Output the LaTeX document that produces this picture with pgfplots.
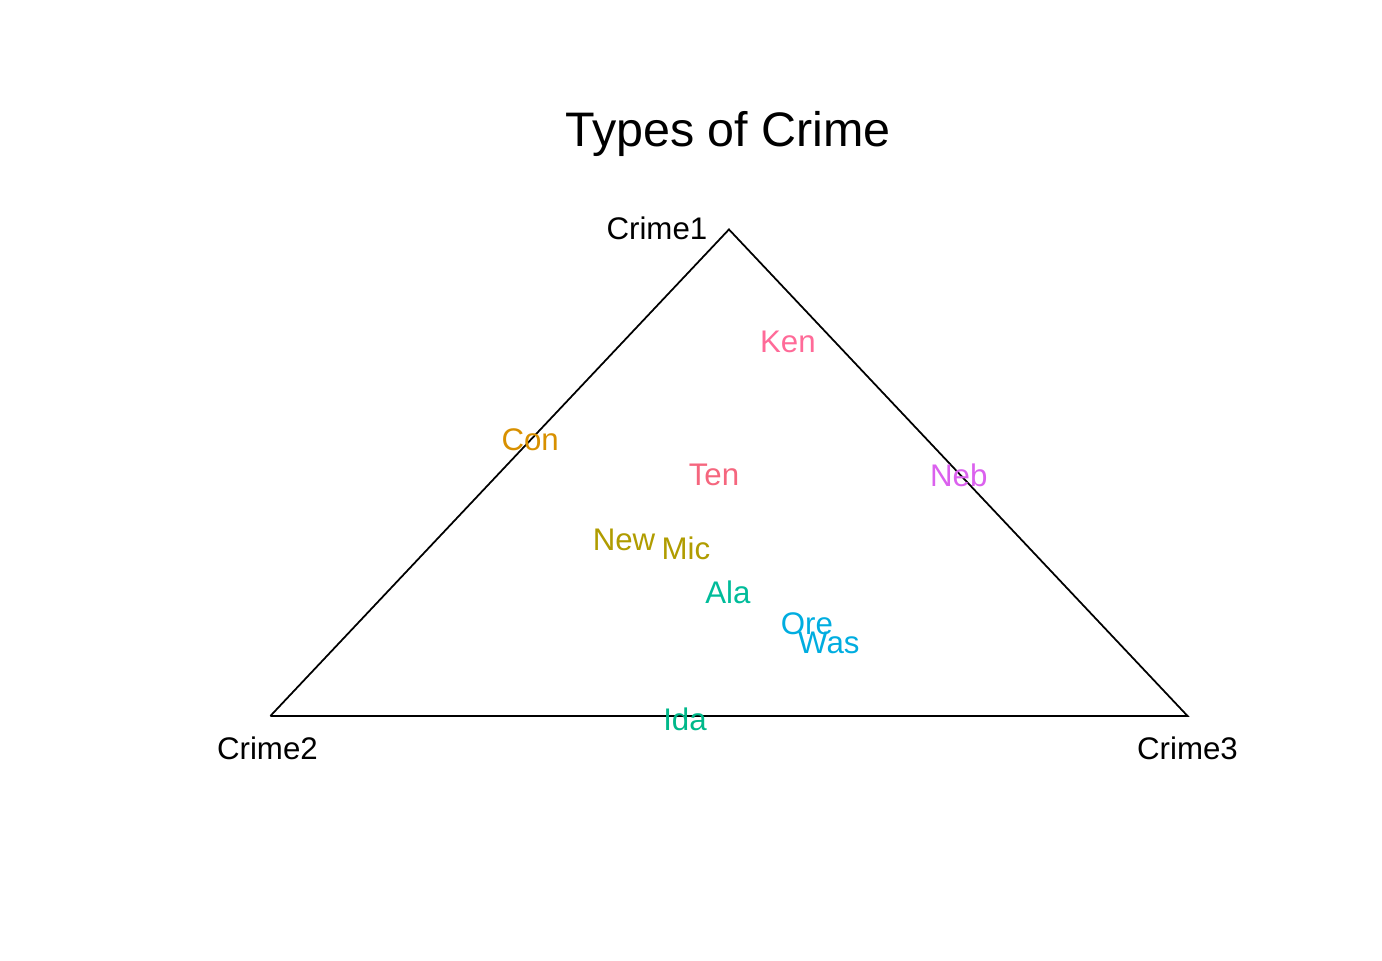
\documentclass[border=0pt]{standalone}
\usepackage{pgfplots}
\pgfplotsset{compat=1.18}
\usepackage{fontspec}
\setmainfont{Liberation Sans}
\definecolor{cKen}{HTML}{FF6A98}
\definecolor{cTen}{HTML}{F5667E}
\definecolor{cCon}{HTML}{D89000}
\definecolor{cNew}{HTML}{B09C00}
\definecolor{cAla}{HTML}{00BC9A}
\definecolor{cIda}{HTML}{00B88A}
\definecolor{cOre}{HTML}{00ADE0}
\definecolor{cNeb}{HTML}{DB61EE}
\newcommand{\lab}[4]{\addplot[draw=none, nodes near coords, point meta=explicit symbolic,
  every node near coord/.append style={anchor=center, text=#4, font=\fontsize{8.9}{11}\selectfont, inner sep=0pt}]
  coordinates {(#1,#2)[#3]};}
\begin{document}
\begin{tikzpicture}
\begin{axis}[
  width=13.82cm, height=9.6cm, scale only axis,
  xmin=0, xmax=1382, ymin=0, ymax=960,
  axis lines=none, clip=false,
]
\draw[white] (rel axis cs:0,0) rectangle (rel axis cs:1,1);
\addplot[black, line width=0.5pt, no marks] coordinates {(270,244) (729,731) (1188,244) (270,244)};
\lab{788}{618}{Ken}{cKen}
\lab{530}{520}{Con}{cCon}
\lab{714}{485}{Ten}{cTen}
\lab{959}{485}{Neb}{cNeb}
\lab{624}{420}{New}{cNew}
\lab{686}{412}{Mic}{cNew}
\lab{728}{368}{Ala}{cAla}
\lab{807}{336}{Ore}{cOre}
\lab{829}{317}{Was}{cOre}
\lab{685}{241}{Ida}{cIda}
\node[font=\fontsize{13.8}{16}\selectfont] at (axis cs:728,827) {Types of Crime};
\node[font=\fontsize{8.9}{11}\selectfont, anchor=east, inner sep=0pt] at (axis cs:708,732) {Crime1};
\node[font=\fontsize{8.9}{11}\selectfont, inner sep=0pt] at (axis cs:267,212) {Crime2};
\node[font=\fontsize{8.9}{11}\selectfont, inner sep=0pt] at (axis cs:1188,212) {Crime3};
\end{axis}
\end{tikzpicture}
\end{document}
